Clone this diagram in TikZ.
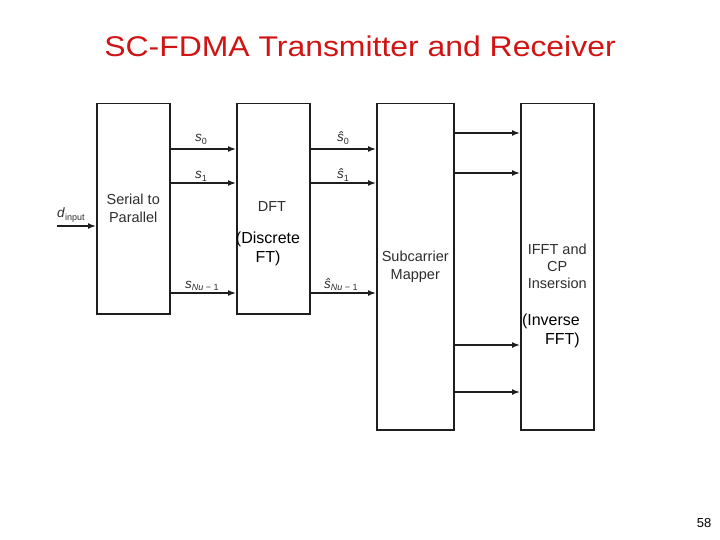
\documentclass[tikz,border=0pt]{standalone}
\usepackage{fontspec}
\usepackage{graphicx}
\setmainfont{Liberation Sans}
\usetikzlibrary{arrows.meta}
\definecolor{titlered}{RGB}{208,20,20}
\definecolor{ink}{RGB}{45,45,45}
\definecolor{edge}{RGB}{30,30,30}
\newcommand{\mysub}[1]{\raisebox{-2.5pt}{\fontsize{9}{9}\selectfont #1}}
\begin{document}
\begin{tikzpicture}[x=1pt,y=-1pt,
  blk/.style={draw=edge,line width=1.5pt,rectangle,anchor=north west,inner sep=0pt,
    font=\fontsize{14.5}{18}\selectfont,text=ink,align=center},
  arr/.style={draw=edge,line width=1.5pt,-{Latex[length=8pt,width=6pt]}},
  lbl/.style={anchor=base west,inner sep=0pt,text=ink,font=\fontsize{13.5}{15}\selectfont},
  big/.style={inner sep=0pt,text=black,font=\fontsize{16}{19}\selectfont}]
\useasboundingbox (0,0) rectangle (720,540);
\node[inner sep=0pt,anchor=base,text=titlered,font=\fontsize{28.5}{30}\selectfont] (title) at (360,57)
  {\scalebox{1.12}[1]{SC-FDMA Transmitter and Receiver}};
\node[blk,minimum width=73pt,minimum height=210pt] (sp) at (96,103) {Serial to\\Parallel};
\node[blk,minimum width=73pt,minimum height=210pt] (dft) at (236,103) {};
\node[blk,minimum width=77pt,minimum height=326pt] (map) at (376,103) {Subcarrier\\Mapper};
\node[blk,minimum width=73pt,minimum height=326pt,font=\fontsize{14.5}{17}\selectfont] (ifft) at (520,103) {IFFT and\\CP\\Insersion};
\node[inner sep=0pt,text=ink,font=\fontsize{14.5}{18}\selectfont] (dftl) at (272,207) {DFT};
\node[big,align=center] (dftn) at (268,249) {(Discrete\\FT)};
\node[big,align=right,anchor=east] (ifftn) at (580,331) {(Inverse\\FFT)};
% input
\coordinate (din) at (57,226);
\draw[arr] (din) -- (din -| sp.west);
\node[lbl] (dl) at (57,218) {\textit{d}\mysub{input}};
% serial -> dft -> mapper
\foreach \y/\n in {149/a,183/b,293/c}{
  \coordinate (p\n) at (0,\y);
  \draw[arr] (p\n -| sp.east) -- (p\n -| dft.west);
  \draw[arr] (p\n -| dft.east) -- (p\n -| map.west);
}
\node[lbl] (s0) at (195,142) {\textit{s}\mysub{0}};
\node[lbl] (s1) at (195,179) {\textit{s}\mysub{1}};
\node[lbl] (sn) at (185,288) {\textit{s}\mysub{\textit{Nu} − 1}};
\node[lbl] (h0) at (337,142) {\textit{ŝ}\mysub{0}};
\node[lbl] (h1) at (337,179) {\textit{ŝ}\mysub{1}};
\node[lbl] (hn) at (324,288) {\textit{ŝ}\mysub{\textit{Nu} − 1}};
% mapper -> ifft
\foreach \y/\n in {133/d,173/e,345/f,392/g}{
  \coordinate (q\n) at (0,\y);
  \draw[arr] (q\n -| map.east) -- (q\n -| ifft.west);
}
\node[inner sep=0pt,anchor=base,font=\fontsize{13}{15}\selectfont] (pg) at (704,527) {58};
\end{tikzpicture}
\end{document}
